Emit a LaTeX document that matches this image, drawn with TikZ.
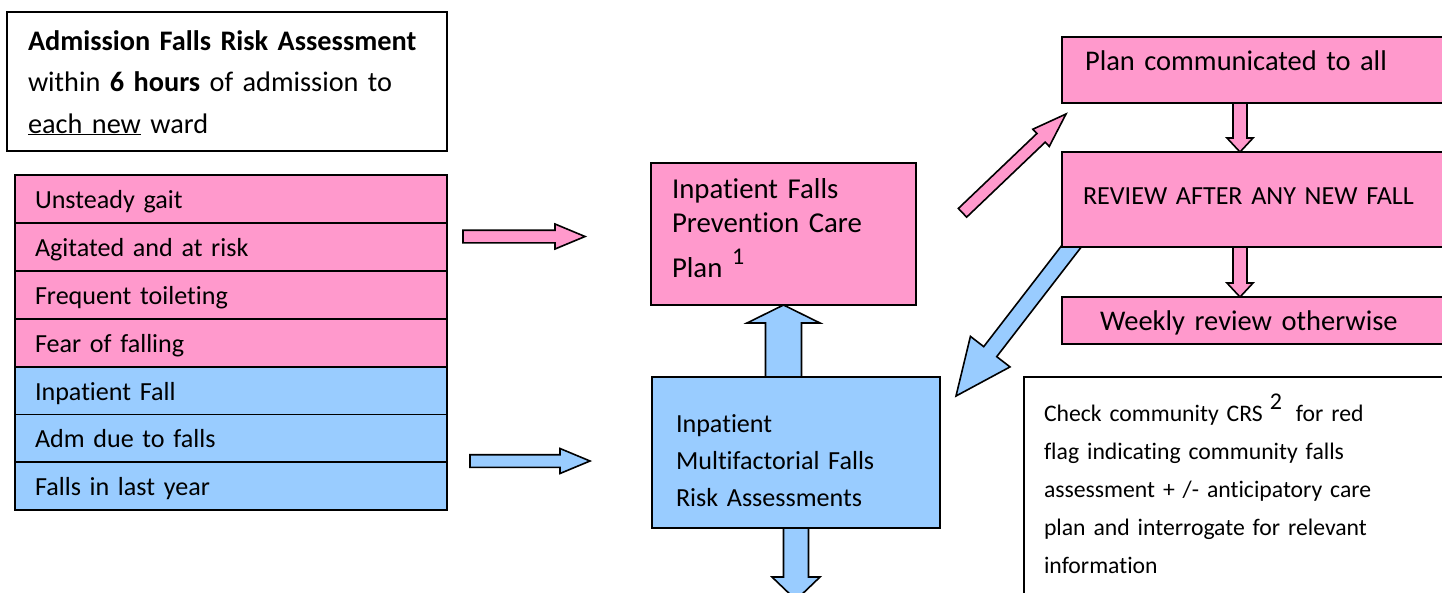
\documentclass[tikz,border=0pt]{standalone}
\usepackage{fontspec}
\setmainfont{Carlito}[Ligatures=NoCommon]
\usetikzlibrary{calc}
\definecolor{fallpink}{RGB}{255,153,204}
\definecolor{fallblue}{RGB}{153,204,255}
\pgfdeclarelayer{back}
\pgfsetlayers{back,main}
\newcommand{\txtsize}[2]{\fontsize{#1}{#2}\selectfont}
\newcommand{\topgap}[1]{\rule{0pt}{#1}}
\newcommand{\botgap}[1]{\rule[-#1]{0pt}{#1}}
\newcommand{\supnum}[2]{\raisebox{#1}{\fontsize{24}{24}\selectfont #2}}
% block arrow: [style]{from}{to}{half shaft}{half head}{head length}
\newcommand{\blockarrow}[6][]{%
  \filldraw[#1] let \p1=(#2), \p2=(#3),
      \n1={atan2(\y2-\y1,\x2-\x1)},
      \n2={veclen(\x2-\x1,\y2-\y1)-#6} in
    ($(\p1)+(\n1+90:#4)$) -- ($(\p1)+(\n1:\n2)+(\n1+90:#4)$) --
    ($(\p1)+(\n1:\n2)+(\n1+90:#5)$) -- (\p2) --
    ($(\p1)+(\n1:\n2)+(\n1-90:#5)$) -- ($(\p1)+(\n1:\n2)+(\n1-90:#4)$) --
    ($(\p1)+(\n1-90:#4)$) -- cycle;}

\begin{document}
\begin{tikzpicture}[x=1pt, y=1pt,
    box/.style={draw, line width=1.8pt, outer sep=0pt, inner ysep=0pt,
                align=left, anchor=north west},
    plainbox/.style={box, fill=white},
    pinkbox/.style={box, fill=fallpink},
    bluebox/.style={box, fill=fallblue},
    row/.style={draw, line width=1.8pt, outer sep=0pt, inner xsep=20pt,
                inner ysep=0pt, text width=392pt, text height=33pt,
                text depth=15pt, align=left, font=\txtsize{26.1}{32}},
    pinkarr/.style={draw, line width=1.6pt, line join=miter, fill=fallpink},
    bluearr/.style={draw, line width=1.6pt, line join=miter, fill=fallblue}
  ]
  \path[use as bounding box] (0,0) rectangle (1442,-592);
  \clip (0,0) rectangle (1442,-592);
  % --- Admission assessment ---
  \node[plainbox, inner xsep=21pt, text width=398pt, font=\txtsize{28.3}{41.5}]
    (adm) at (7,-12)
    {\topgap{38pt}\mbox{\textbf{Admission Falls Risk Assessment}}\\
     within \textbf{6 hours} of admission to\\
     \underline{each new} ward\botgap{18pt}};
  % --- Risk factors ---
  \node[row, fill=fallpink] (r1) at (231,-199) {Unsteady gait};
  \node[row, fill=fallpink] (r2) at (231,-247) {Agitated and at risk};
  \node[row, fill=fallpink] (r3) at (231,-295) {Frequent toileting};
  \node[row, fill=fallpink] (r4) at (231,-343) {Fear of falling};
  \node[row, fill=fallblue] (r5) at (231,-391) {Inpatient Fall};
  \node[row, fill=fallblue] (r6) at (231,-438.5) {Adm due to falls};
  \node[row, fill=fallblue] (r7) at (231,-486) {Falls in last year};
  % --- Care plan and assessments ---
  \node[pinkbox, inner xsep=21pt, text width=223pt, font=\txtsize{28.8}{34}]
    (plan) at (651,-163)
    {\topgap{35pt}Inpatient Falls\\ Prevention Care\\[11pt]
     Plan \supnum{13pt}{1}\botgap{28pt}};
  \node[bluebox, inner xsep=24pt, text width=240pt, font=\txtsize{26.1}{37}]
    (mfra) at (652,-377)
    {\topgap{55pt}Inpatient\\ Multifactorial Falls\\
     Risk Assessments\botgap{22pt}};
  % --- Right column ---
  \node[pinkbox, inner xsep=23pt, text width=352pt, font=\txtsize{28.5}{34}]
    (comm) at (1062,-37) {\topgap{33pt}Plan communicated to all\botgap{33pt}};
  \node[pinkbox, inner xsep=21pt, text width=356pt, font=\txtsize{26.1}{34}]
    (review) at (1062,-152) {\topgap{52pt}REVIEW AFTER ANY NEW FALL\botgap{43pt}};
  \node[pinkbox, inner xsep=38pt, text width=322pt, font=\txtsize{28.5}{34}]
    (weekly) at (1062,-297) {\topgap{33pt}Weekly review otherwise\botgap{14pt}};
  \node[plainbox, inner xsep=20pt, text width=400pt, font=\txtsize{23.7}{38}]
    (crs) at (1024,-377)
    {\topgap{44pt}Check community CRS\hspace{7pt}\supnum{12pt}{2}\hspace{14pt}for red\\
     flag indicating community falls\\
     assessment + /- anticipatory care\\
     plan and interrogate for relevant\\
     information\botgap{40pt}};
  % --- Block arrows ---
  \coordinate (pa) at (463,-236.5);
  \coordinate (pb) at (585,-236.5);
  \coordinate (ba) at (470,-461);
  \coordinate (bb) at (590,-461);
  \coordinate (da) at (962.5,-212.8);
  \coordinate (db) at (1066,-114);
  \begin{pgfonlayer}{back}
    \blockarrow[pinkarr]{pa}{pb}{6.3}{12.5}{30}
    \blockarrow[bluearr]{ba}{bb}{6.3}{12.5}{30}
    \blockarrow[bluearr]{plan.south |- mfra.north}{plan.south}{18}{36.5}{18}
    \blockarrow[bluearr]{mfra.south}{$(mfra.south)+(0,-72)$}{12.5}{24}{23}
    \blockarrow[pinkarr]{da}{db}{6}{11.9}{34.5}
    \blockarrow[pinkarr]{$(comm.south west)+(178,0)$}{$(review.north west)+(178,0)$}{7}{13}{14}
    \blockarrow[pinkarr]{$(review.south west)+(178,0)$}{$(weekly.north west)+(178,0)$}{7}{13}{14}
    \blockarrow[bluearr]{$(review.south west)+(12,4)$}{$(mfra.north east)+(16,-19)$}{8.2}{25}{56}
  \end{pgfonlayer}
\end{tikzpicture}
\end{document}
